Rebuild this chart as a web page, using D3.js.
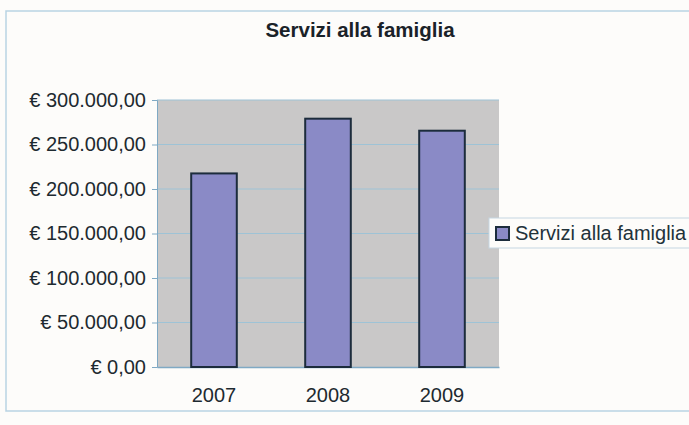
<!DOCTYPE html>
<html lang="it">
<head>
    <meta charset="UTF-8">
    <title>Servizi alla famiglia</title>
    <script src="https://d3js.org/d3.v7.min.js"></script>
    <style>
        body { margin: 0; background: #fdfcfa; }
        text { font-family: "Liberation Sans", Arial, sans-serif; }
    </style>
</head>
<body>
<div id="chart"></div>
<script>
    // data
    const anni = ["2007", "2008", "2009"];
    const importi = [217500, 279000, 265500];
    const tickValori = [0, 50000, 100000, 150000, 200000, 250000, 300000];
    const serie = "Servizi alla famiglia";

    const width = 689, height = 425;
    const margin = {top: 100, left: 157, right: 190, bottom: 58};
    const chartWidth = width - margin.left - margin.right;
    const chartHeight = height - margin.top - margin.bottom;

    const svg = d3.select("#chart").append("svg")
        .attr("width", width)
        .attr("height", height);

    // frame of the chart object
    svg.append("rect")
        .attr("x", 6).attr("y", 11)
        .attr("width", width + 10).attr("height", 400)
        .attr("fill", "#fdfcfa")
        .attr("stroke", "#b9d3e3")
        .attr("stroke-width", 1.5);

    svg.append("text")
        .attr("x", 360).attr("y", 37)
        .attr("text-anchor", "middle")
        .style("font-weight", "bold")
        .style("font-size", "20.5px")
        .style("fill", "#1a2228")
        .text(serie);

    const x = d3.scaleBand().domain(anni).range([0, chartWidth])
        .paddingInner(0.6).paddingOuter(0.3);
    const y = d3.scaleLinear().domain([0, 300000]).range([chartHeight, 0]);

    const formatEuro = d3.formatLocale({
        decimal: ",",
        thousands: ".",
        grouping: [3],
        currency: ["€ ", ""]
    }).format("$,.2f");

    const g = svg.append("g")
        .attr("transform", `translate(${margin.left},${margin.top})`);

    g.append("rect")
        .attr("width", chartWidth)
        .attr("height", chartHeight)
        .attr("fill", "#c9c8c8");

    g.selectAll(".grid")
        .data(tickValori.filter(d => d > 0))
        .enter().append("line")
        .attr("class", "grid")
        .attr("x1", 0).attr("x2", chartWidth)
        .attr("y1", d => y(d)).attr("y2", d => y(d))
        .attr("stroke", "#9ec3d6")
        .attr("stroke-width", 1);

    const yAxis = g.append("g")
        .call(d3.axisLeft(y).tickValues(tickValori).tickFormat(formatEuro).tickSize(5).tickPadding(6));
    yAxis.select(".domain").attr("stroke", "#7fa9c4");
    yAxis.selectAll(".tick line").attr("stroke", "#7fa9c4");
    yAxis.selectAll("text")
        .style("font-size", "20px")
        .style("fill", "#1e2a30");

    const xAxis = g.append("g")
        .attr("transform", `translate(0,${chartHeight})`)
        .call(d3.axisBottom(x).tickSize(0).tickPadding(21));
    xAxis.select(".domain").attr("stroke", "#7fa9c4").attr("stroke-width", 1.5);
    xAxis.selectAll("text")
        .style("font-size", "20px")
        .style("fill", "#1e2a30");

    g.selectAll(".bar")
        .data(importi)
        .enter().append("rect")
        .attr("class", "bar")
        .attr("x", (d, i) => x(anni[i]))
        .attr("width", x.bandwidth())
        .attr("y", d => y(d))
        .attr("height", d => chartHeight - y(d))
        .attr("fill", "#8a8ac6")
        .attr("stroke", "#1c2c3c")
        .attr("stroke-width", 2);

    // legend
    const leg = svg.append("g").attr("transform", "translate(489,218)");
    leg.append("rect")
        .attr("width", 220).attr("height", 30)
        .attr("fill", "#fdfcfa")
        .attr("stroke", "#c5d6e2");
    leg.append("rect")
        .attr("x", 7).attr("y", 9)
        .attr("width", 13).attr("height", 13)
        .attr("fill", "#8a8ac6")
        .attr("stroke", "#1c2c3c")
        .attr("stroke-width", 2);
    leg.append("text")
        .attr("x", 26).attr("y", 22)
        .style("font-size", "20px")
        .style("fill", "#22323a")
        .text(serie);
</script>
</body>
</html>
